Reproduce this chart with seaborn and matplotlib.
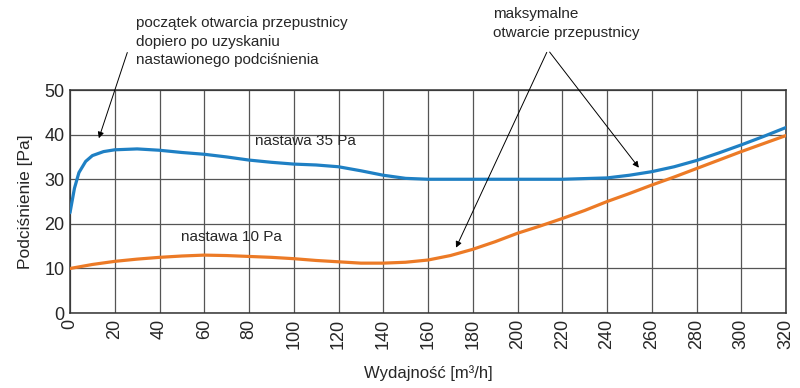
import pandas as pd
import matplotlib.pyplot as plt
import seaborn as sns
from matplotlib import font_manager

# Values
flow_35 = [0, 2, 4, 7, 10, 15, 20, 30, 40, 50, 60, 70, 80, 90, 100, 110, 120, 130, 140,
           150, 160, 180, 200, 220, 240, 250, 260, 270, 280, 290, 300, 310, 320]
press_35 = [22.5, 28, 31.5, 34, 35.3, 36.2, 36.6, 36.8, 36.5, 36, 35.6, 35, 34.3, 33.8, 33.4,
            33.2, 32.8, 31.9, 30.9, 30.2, 30, 30, 30, 30, 30.3, 30.9, 31.7, 32.8, 34.2, 35.9,
            37.7, 39.6, 41.6]

flow_10 = [0, 10, 20, 30, 40, 50, 60, 70, 80, 90, 100, 110, 120, 130, 140, 150, 160, 170,
           180, 190, 200, 210, 220, 230, 240, 250, 260, 270, 280, 290, 300, 310, 320]
press_10 = [10, 10.9, 11.6, 12.1, 12.5, 12.8, 13, 12.9, 12.7, 12.5, 12.2, 11.8, 11.5, 11.2,
            11.2, 11.4, 11.9, 12.9, 14.3, 16, 17.9, 19.5, 21.2, 23, 25, 26.8, 28.7, 30.5, 32.4,
            34.3, 36.2, 38, 39.8]

x_ticks = list(range(0, 321, 20))
y_ticks = [0, 10, 20, 30, 40, 50]

sns.set_style('white')
names = {f.name for f in font_manager.fontManager.ttflist}
fam = 'Liberation Sans Narrow' if 'Liberation Sans Narrow' in names else 'Liberation Sans'
plt.rcParams['font.family'] = [fam, 'DejaVu Sans']

df = pd.concat([
    pd.DataFrame({'q': flow_35, 'p': press_35, 's': 'nastawa 35 Pa'}),
    pd.DataFrame({'q': flow_10, 'p': press_10, 's': 'nastawa 10 Pa'}),
])

fig = plt.figure(figsize=(8, 3.88), dpi=100)
ax = fig.add_axes([0.0875, 0.193, 0.895, 0.575])

sns.lineplot(data=df, x='q', y='p', hue='s', sort=False, legend=False, ax=ax,
             palette={'nastawa 35 Pa': '#1f80c4', 'nastawa 10 Pa': '#ec7a26'},
             linewidth=2.3, zorder=3)

ax.set_xlim(0, 320)
ax.set_ylim(0, 50)
ax.set_xticks(x_ticks)
ax.set_yticks(y_ticks)
ax.tick_params(axis='x', labelrotation=90, labelsize=13, length=0, pad=4)
ax.tick_params(axis='y', labelsize=13, length=0, pad=4)
ax.grid(True, color='#555555', linewidth=0.9)
for sp in ax.spines.values():
    sp.set_color('#333333')
    sp.set_linewidth(1.1)

ax.set_xlabel('Wydajność [m³/h]', fontsize=12, labelpad=12)
ax.set_ylabel('Podciśnienie [Pa]', fontsize=12.5, labelpad=8)

ax.text(82.7, 38.6, 'nastawa 35 Pa', fontsize=11, va='center')
ax.text(49.6, 17, 'nastawa 10 Pa', fontsize=11, va='center')

arrow = dict(arrowstyle='-|>', color='black', lw=0.7, mutation_scale=9)
ax.annotate('', xy=(12.5, 38.6), xytext=(26, 59), arrowprops=arrow, annotation_clip=False)
ax.text(29.5, 66.5, 'początek otwarcia przepustnicy\ndopiero po uzyskaniu\nnastawionego podciśnienia',
        fontsize=11, va='top', linespacing=1.4)

ax.annotate('', xy=(172, 14.1), xytext=(213.6, 59), arrowprops=arrow, annotation_clip=False)
ax.annotate('', xy=(255, 32.1), xytext=(213.6, 59), arrowprops=arrow, annotation_clip=False)
ax.text(189, 68.5, 'maksymalne\notwarcie przepustnicy', fontsize=11, va='top', linespacing=1.4)

fig.savefig('out.png', dpi=100)
